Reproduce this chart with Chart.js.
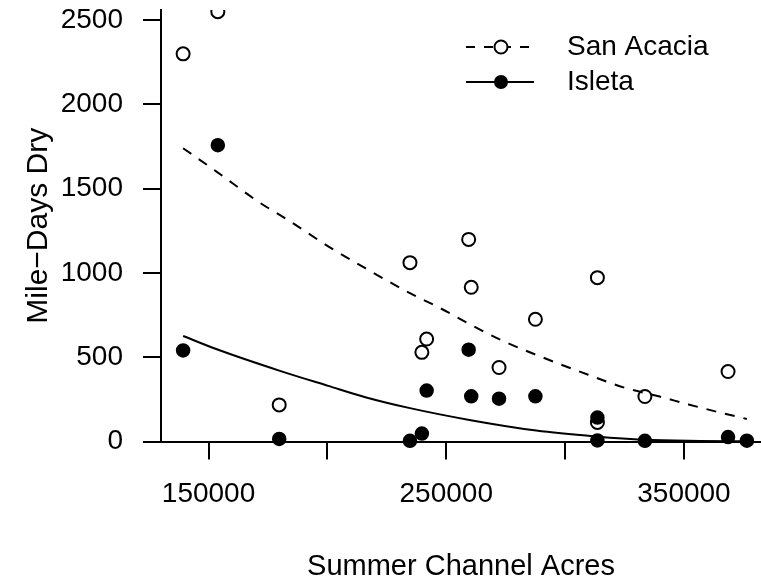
<!DOCTYPE html>
<html>
<head>
<meta charset="utf-8">
<title>Mile-Days Dry vs Summer Channel Acres</title>
<script src="https://cdn.jsdelivr.net/npm/chart.js@4.4.0/dist/chart.umd.min.js"></script>
<style>
  html, body { margin: 0; padding: 0; background: #fff; }
  canvas { display: block; }
</style>
</head>
<body>
<canvas id="chart" width="761" height="583"></canvas>
<script>
// Observed points, San Acacia (open circles)
const sanAcaciaX = [139300, 153900, 179730, 234730, 239740, 241750, 259420, 260510, 272200, 287500, 313580, 313580, 333560, 368540];
const sanAcaciaY = [2300, 2550, 217, 1061, 529, 608, 1199, 915, 439, 725, 972, 113, 267, 415];

// Observed points, Isleta (filled circles)
const isletaX = [139300, 153900, 179730, 234730, 239740, 241750, 259420, 260510, 272200, 287500, 313580, 313580, 333560, 368540, 376450];
const isletaY = [540, 1758, 15, 4, 47, 302, 545, 268, 254, 268, 142, 6, 4, 26, 5];

// Fitted curves
const sanAcaciaFitX = [139300, 153490, 170690, 183180, 200340, 215970, 234730, 247220, 259710, 273800, 287850, 309710, 325320, 339400, 351900, 365940, 376450];
const sanAcaciaFitY = [1740, 1600, 1425, 1316, 1158, 1028, 880, 793, 697, 597, 514, 396, 318, 268, 220, 169, 134];
const isletaFitX = [139300, 153490, 180030, 200340, 215970, 234730, 259710, 287850, 312820, 333140, 356690, 376450];
const isletaFitY = [626, 547, 419, 330, 263, 198, 128, 65, 30, 10, 3, 1];

// Axis ticks
const xTicks = [150000, 200000, 250000, 300000, 350000];
const xTickLabels = ['150000', '', '250000', '', '350000'];
const yTicks = [0, 500, 1000, 1500, 2000, 2500];
const yTickLabels = ['0', '500', '1000', '1500', '2000', '2500'];

const legendLabels = ['San Acacia', 'Isleta'];

Chart.defaults.font.family = "'Liberation Sans', Arial, sans-serif";
Chart.defaults.font.size = 28;
Chart.defaults.color = '#000';

function toPoints(xs, ys) {
    return xs.map((x, i) => ({ x: x, y: ys[i] }));
}

// R style legend: line with symbol in the middle, then the label
const rLegend = {
    id: 'rLegend',
    afterDraw(chart) {
        const ctx = chart.ctx;
        const rows = [
            { dash: [9, 9], filled: false, y: 47 },
            { dash: [], filled: true, y: 82 }
        ];
        ctx.save();
        rows.forEach((row, i) => {
            ctx.strokeStyle = '#000';
            ctx.lineWidth = 2;
            ctx.setLineDash(row.dash);
            ctx.beginPath();
            ctx.moveTo(466, row.y);
            ctx.lineTo(534, row.y);
            ctx.stroke();
            ctx.setLineDash([]);

            ctx.beginPath();
            ctx.arc(501, row.y, row.filled ? 7 : 6.5, 0, Math.PI * 2);
            if (row.filled) {
                ctx.fillStyle = '#000';
                ctx.fill();
            } else {
                ctx.fillStyle = '#fff';
                ctx.fill();
                ctx.stroke();
            }

            ctx.fillStyle = '#000';
            ctx.font = "28px 'Liberation Sans', Arial, sans-serif";
            ctx.textAlign = 'left';
            ctx.textBaseline = 'middle';
            ctx.fillText(legendLabels[i], 567, row.y);
        });
        ctx.restore();
    }
};

const ctx = document.getElementById('chart').getContext('2d');

new Chart(ctx, {
    type: 'scatter',
    data: {
        datasets: [
            {
                type: 'line',
                label: 'San Acacia fit',
                data: toPoints(sanAcaciaFitX, sanAcaciaFitY),
                borderColor: '#000',
                borderWidth: 2,
                borderDash: [10, 9],
                pointRadius: 0,
                fill: false,
                cubicInterpolationMode: 'monotone',
                order: 0
            },
            {
                type: 'line',
                label: 'Isleta fit',
                data: toPoints(isletaFitX, isletaFitY),
                borderColor: '#000',
                borderWidth: 2,
                pointRadius: 0,
                fill: false,
                cubicInterpolationMode: 'monotone',
                order: 1
            },
            {
                label: 'Isleta',
                data: toPoints(isletaX, isletaY),
                pointStyle: 'circle',
                pointRadius: 6.5,
                pointBorderWidth: 1.5,
                borderColor: '#000',
                backgroundColor: '#000',
                clip: { left: false, top: 0, right: false, bottom: false },
                order: 2
            },
            {
                label: 'San Acacia',
                data: toPoints(sanAcaciaX, sanAcaciaY),
                pointStyle: 'circle',
                pointRadius: 6.5,
                pointBorderWidth: 2,
                borderColor: '#000',
                backgroundColor: 'rgba(0,0,0,0)',
                clip: { left: false, top: 0, right: false, bottom: false },
                order: 3
            }
        ]
    },
    options: {
        responsive: false,
        animation: false,
        events: [],
        layout: { autoPadding: false, padding: { top: 10, left: 0, right: 0, bottom: 0 } },
        plugins: {
            legend: { display: false },
            tooltip: { enabled: false }
        },
        scales: {
            x: {
                type: 'linear',
                min: 130000,
                max: 382400,
                afterBuildTicks: scale => {
                    scale.ticks = xTicks.map(v => ({ value: v }));
                },
                afterFit: scale => {
                    scale.height = 141.5;
                    scale.paddingLeft = 0;
                    scale.paddingRight = 0;
                },
                ticks: {
                    autoSkip: false,
                    maxRotation: 0,
                    minRotation: 0,
                    padding: 18,
                    color: '#000',
                    callback: value => {
                        const i = xTicks.indexOf(value);
                        return i >= 0 ? xTickLabels[i] : '';
                    }
                },
                grid: {
                    drawOnChartArea: false,
                    drawTicks: true,
                    tickLength: 18,
                    color: '#000',
                    lineWidth: 2
                },
                border: { display: true, color: '#000', width: 2 },
                title: {
                    display: true,
                    text: 'Summer Channel Acres',
                    color: '#000',
                    font: { size: 29, lineHeight: 1 },
                    padding: { top: 0, bottom: 2 }
                }
            },
            y: {
                type: 'linear',
                min: 0,
                max: 2560,
                afterBuildTicks: scale => {
                    scale.ticks = yTicks.map(v => ({ value: v }));
                },
                afterFit: scale => {
                    scale.width = 161;
                    scale.paddingTop = 0;
                    scale.paddingBottom = 0;
                },
                ticks: {
                    padding: 20,
                    color: '#000',
                    callback: value => {
                        const i = yTicks.indexOf(value);
                        return i >= 0 ? yTickLabels[i] : '';
                    }
                },
                grid: {
                    drawOnChartArea: false,
                    drawTicks: true,
                    tickLength: 18,
                    color: '#000',
                    lineWidth: 2
                },
                border: { display: true, color: '#000', width: 2 },
                title: {
                    display: true,
                    text: 'Mile\u2212Days Dry',
                    color: '#000',
                    font: { size: 30 },
                    padding: { top: 21, bottom: 0 }
                }
            }
        }
    },
    plugins: [rLegend]
});
</script>
</body>
</html>
